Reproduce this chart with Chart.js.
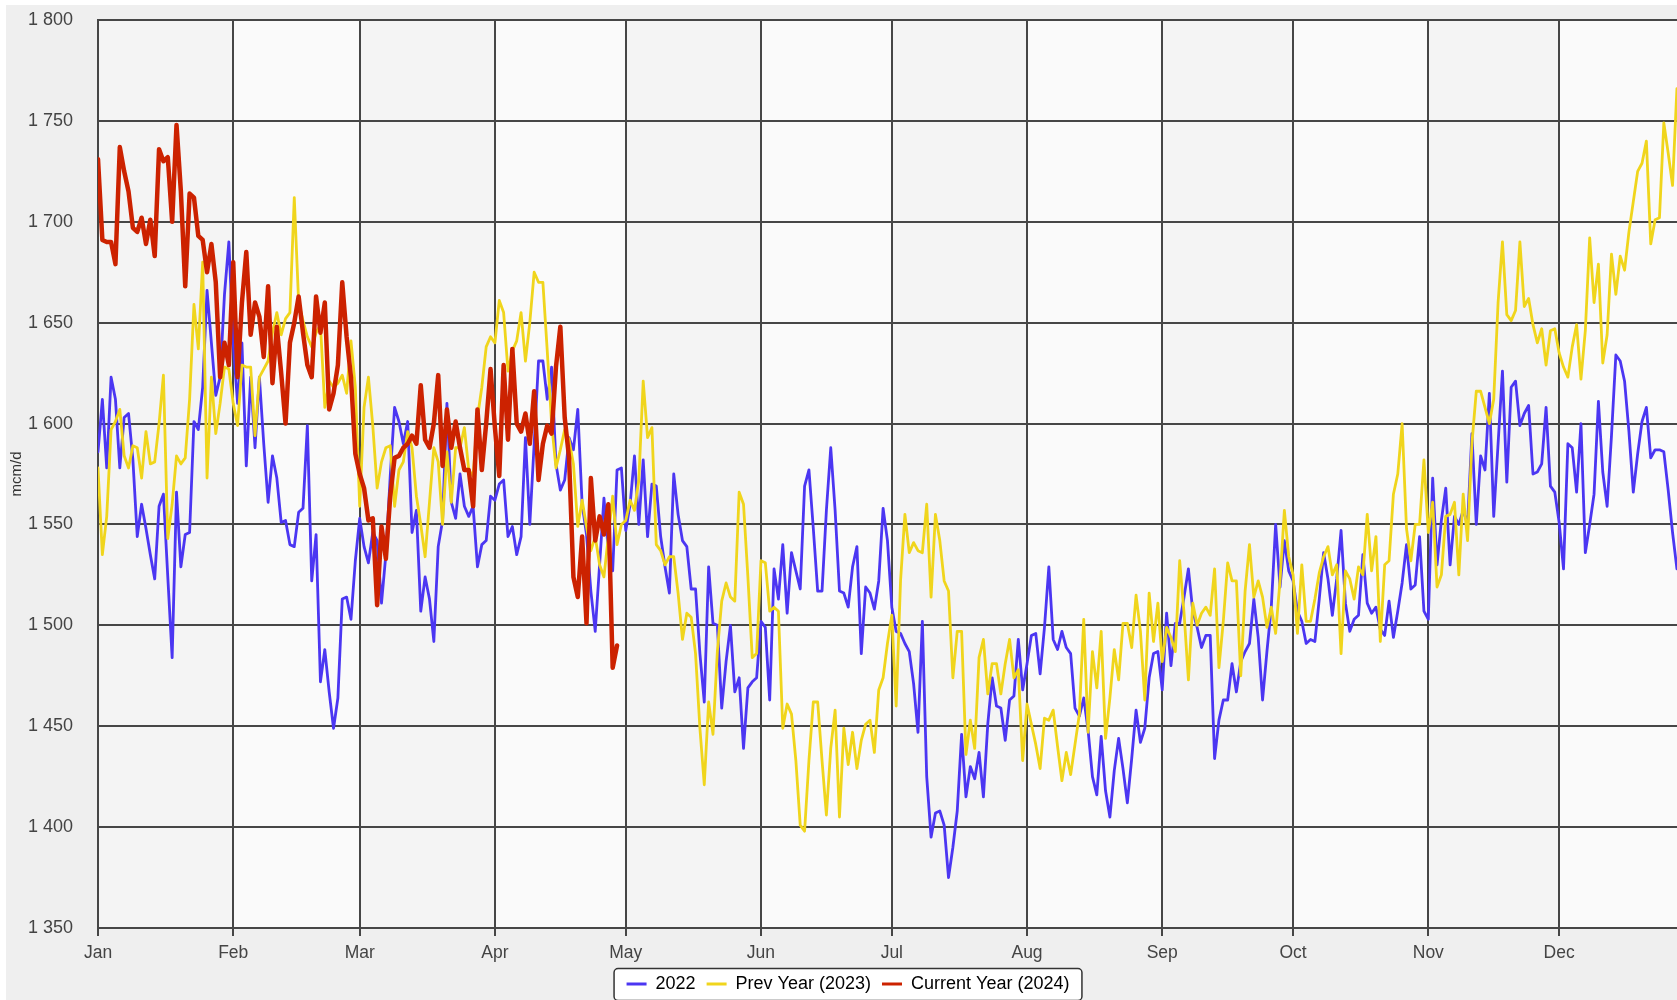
<!DOCTYPE html>
<html>
<head>
<meta charset="utf-8">
<title>Daily gas flow, mcm/d</title>
<script src="https://cdn.jsdelivr.net/npm/chart.js@4.4.1/dist/chart.umd.min.js"></script>
<style>
  html, body { margin: 0; padding: 0; background: #ffffff; overflow: hidden; width: 1677px; height: 1000px; }
  #wrap { position: absolute; left: 6px; top: 5px; width: 1696px; height: 998px; }
</style>
</head>
<body>
<div id="wrap"><canvas id="chart"></canvas></div>
<script>
// Month labels and the day-of-year on which each month starts (leap-year calendar)
const MONTHS = ['Jan', 'Feb', 'Mar', 'Apr', 'May', 'Jun', 'Jul', 'Aug', 'Sep', 'Oct', 'Nov', 'Dec'];
const MONTH_START_DAYS = [0, 31, 60, 91, 121, 152, 182, 213, 244, 274, 305, 335];

// Daily values, mcm/d, one entry per day starting 1 January
const SERIES_2022 = [
  1586,1612,1578,1623,1612,1578,1603,1605,1582,1544,
  1560,1548,1535,1523,1559,1565,1524,1484,1566,1529,
  1545,1546,1601,1597,1618,1666,1640,1614,1623,1664,
  1690,1640,1610,1640,1579,1623,1588,1623,1590,1561,
  1584,1573,1551,1552,1540,1539,1556,1558,1599,1522,
  1545,1472,1488,1467,1449,1464,1513,1514,1503,1532,
  1553,1539,1531,1546,1542,1511,1535,1574,1608,1601,
  1590,1601,1546,1557,1507,1524,1513,1492,1539,1552,
  1610,1561,1553,1575,1559,1554,1559,1529,1540,1542,
  1564,1562,1570,1572,1544,1549,1535,1544,1593,1550,
  1590,1631,1631,1612,1628,1580,1567,1572,1593,1587,
  1607,1560,1545,1517,1497,1530,1563,1537,1527,1577,
  1578,1547,1560,1584,1550,1582,1544,1570,1569,1544,
  1529,1516,1575,1555,1542,1539,1518,1518,1486,1462,
  1529,1501,1500,1459,1482,1500,1467,1474,1439,1469,
  1472,1474,1502,1499,1463,1528,1513,1540,1506,1536,
  1527,1518,1569,1577,1548,1517,1517,1557,1588,1557,
  1517,1516,1509,1529,1539,1486,1519,1516,1508,1522,
  1558,1542,1509,1497,1496,1491,1487,1471,1447,1502,
  1425,1395,1407,1408,1401,1375,1390,1408,1446,1415,
  1430,1424,1437,1415,1451,1474,1460,1459,1443,1463,
  1465,1493,1468,1481,1495,1496,1476,1499,1529,1493,
  1488,1497,1489,1486,1459,1455,1464,1448,1425,1416,
  1445,1418,1405,1428,1444,1429,1412,1434,1458,1442,
  1449,1474,1486,1487,1468,1506,1480,1501,1501,1514,
  1528,1507,1499,1489,1495,1495,1434,1453,1463,1463,
  1481,1467,1482,1487,1491,1513,1494,1463,1487,1509,
  1550,1519,1542,1527,1522,1507,1502,1491,1493,1492,
  1513,1536,1523,1505,1523,1547,1511,1497,1503,1505,
  1535,1511,1506,1509,1498,1495,1512,1494,1507,1521,
  1540,1518,1520,1544,1507,1503,1573,1530,1552,1568,
  1530,1554,1550,1557,1550,1595,1550,1584,1577,1615,
  1554,1590,1626,1571,1618,1621,1599,1605,1609,1575,
  1576,1580,1608,1569,1566,1551,1528,1590,1588,1566,
  1600,1536,1550,1565,1611,1576,1559,1594,1634,1631,
  1621,1596,1566,1585,1601,1608,1583,1587,1587,1586,
  1567,1546,1528
];

const SERIES_2023 = [
  1578,1535,1554,1597,1601,1607,1584,1578,1589,1588,
  1573,1596,1580,1581,1600,1624,1543,1560,1584,1580,
  1583,1612,1659,1637,1680,1573,1623,1595,1610,1628,
  1627,1610,1599,1629,1628,1628,1594,1623,1627,1631,
  1645,1655,1644,1652,1655,1712,1660,1651,1643,1638,
  1645,1649,1608,1621,1618,1620,1624,1615,1641,1618,
  1559,1608,1623,1599,1568,1581,1588,1589,1559,1577,
  1581,1596,1588,1564,1550,1534,1561,1588,1581,1550,
  1586,1561,1588,1588,1598,1577,1574,1603,1618,1638,
  1643,1640,1661,1655,1626,1636,1641,1655,1631,1650,
  1675,1670,1670,1636,1600,1578,1587,1597,1592,1580,
  1549,1562,1549,1537,1544,1530,1524,1544,1564,1540,
  1550,1552,1562,1557,1572,1621,1593,1598,1540,1537,
  1530,1534,1534,1516,1493,1506,1504,1486,1449,1421,
  1462,1446,1487,1512,1521,1514,1512,1566,1560,1524,
  1484,1486,1532,1531,1507,1509,1507,1449,1461,1456,
  1433,1401,1398,1433,1462,1462,1433,1406,1439,1458,
  1405,1449,1431,1447,1429,1443,1451,1453,1437,1468,
  1474,1491,1505,1460,1522,1555,1536,1541,1537,1536,
  1560,1514,1555,1542,1522,1517,1474,1497,1497,1436,
  1453,1439,1484,1493,1466,1481,1481,1466,1481,1493,
  1474,1478,1433,1461,1451,1441,1429,1454,1453,1458,
  1440,1423,1437,1426,1441,1456,1503,1447,1487,1469,
  1497,1444,1464,1488,1473,1501,1501,1489,1515,1497,
  1463,1516,1492,1511,1482,1499,1494,1487,1532,1506,
  1473,1511,1500,1506,1509,1505,1528,1479,1502,1531,
  1522,1522,1475,1517,1540,1514,1522,1514,1499,1509,
  1496,1522,1557,1534,1525,1496,1530,1502,1502,1513,
  1526,1534,1539,1525,1530,1486,1527,1523,1513,1529,
  1525,1555,1527,1544,1492,1530,1532,1565,1575,1600,
  1548,1532,1550,1550,1582,1546,1561,1519,1525,1554,
  1555,1561,1525,1565,1542,1590,1616,1616,1608,1600,
  1612,1660,1690,1654,1651,1656,1690,1658,1662,1649,
  1640,1647,1629,1646,1647,1635,1628,1623,1638,1649,
  1622,1646,1692,1660,1679,1630,1644,1684,1664,1683,
  1676,1695,1710,1725,1729,1740,1689,1701,1702,1749,
  1734,1718,1766
];

const SERIES_2024 = [
  1731,1691,1690,1690,1679,1737,1725,1715,1697,1695,
  1702,1689,1701,1683,1736,1730,1732,1700,1748,1715,
  1668,1714,1712,1693,1691,1675,1689,1670,1623,1640,
  1629,1680,1623,1660,1685,1644,1660,1653,1633,1668,
  1620,1648,1625,1600,1640,1650,1663,1645,1629,1623,
  1663,1645,1660,1607,1615,1629,1670,1643,1623,1585,
  1575,1568,1552,1553,1510,1549,1533,1564,1583,1584,
  1588,1590,1594,1590,1619,1592,1588,1600,1624,1579,
  1607,1588,1601,1588,1577,1577,1559,1607,1577,1600,
  1627,1598,1574,1629,1592,1637,1600,1596,1605,1590,
  1616,1572,1590,1599,1595,1628,1648,1603,1583,1524,
  1514,1544,1501,1573,1542,1554,1545,1560,1479,1490
];

const SERIES_LABELS = ['2022', 'Prev Year (2023)', 'Current Year (2024)'];

const toPoints = (arr) => arr.map((v, i) => ({ x: i, y: v }));
const thousands = (v) => String(v).replace(/\B(?=(\d{3})+(?!\d))/g, ' ');

const FONT = '"Liberation Sans", Arial, Helvetica, sans-serif';
const GRID = '#464646';
const TEXT = '#444444';

// Grey panel, alternating month columns and the framed legend
const panelBackground = {
  id: 'panelBackground',
  beforeDraw(chart) {
    const { ctx, chartArea: a, scales: { x } } = chart;
    ctx.save();
    ctx.fillStyle = '#efefef';
    ctx.fillRect(0, 0, chart.width, chart.height);
    const edges = MONTH_START_DAYS.concat([x.max]);
    for (let i = 0; i < MONTH_START_DAYS.length; i++) {
      const l = x.getPixelForValue(edges[i]);
      const r = x.getPixelForValue(edges[i + 1]);
      ctx.fillStyle = i % 2 === 0 ? '#f4f4f4' : '#fafafa';
      ctx.fillRect(l, a.top, r - l, a.bottom - a.top);
    }
    const lg = chart.legend;
    if (lg && lg.legendHitBoxes && lg.legendHitBoxes.length) {
      const hb = lg.legendHitBoxes;
      const left = Math.min(...hb.map(h => h.left)) - 13;
      const right = Math.max(...hb.map(h => h.left + h.width)) + 12;
      const top = Math.min(...hb.map(h => h.top)) - 7;
      const bottom = Math.max(...hb.map(h => h.top + h.height)) + 7;
      ctx.beginPath();
      ctx.roundRect(left + 0.5, top + 0.5, right - left, bottom - top, 4);
      ctx.fillStyle = '#ffffff';
      ctx.fill();
      ctx.lineWidth = 1.5;
      ctx.strokeStyle = '#333333';
      ctx.stroke();
    }
    ctx.restore();
  }
};

new Chart(document.getElementById('chart'), {
  type: 'line',
  data: {
    datasets: [
      { label: SERIES_LABELS[0], data: toPoints(SERIES_2022), borderColor: '#4b36f2', borderWidth: 2.8, order: 2 },
      { label: SERIES_LABELS[1], data: toPoints(SERIES_2023), borderColor: '#f0d51c', borderWidth: 2.8, order: 1 },
      { label: SERIES_LABELS[2], data: toPoints(SERIES_2024), borderColor: '#cc2200', borderWidth: 4.5, order: 0 }
    ]
  },
  options: {
    responsive: true,
    maintainAspectRatio: false,
    animation: false,
    events: [],
    elements: { point: { radius: 0 }, line: { tension: 0, borderJoinStyle: 'round', borderCapStyle: 'round' } },
    layout: { padding: { top: 15, right: 12, bottom: 0, left: 0 } },
    scales: {
      x: {
        type: 'linear',
        min: 0,
        max: 365,
        afterBuildTicks(s) { s.ticks = MONTH_START_DAYS.map(v => ({ value: v })); },
        afterFit(s) { s.height = 36; },
        ticks: {
          autoSkip: false, maxRotation: 0, padding: 6.5, color: TEXT,
          font: { family: FONT, size: 17.5 },
          callback: (v, i) => MONTHS[i]
        },
        grid: { color: GRID, lineWidth: 2, tickLength: 8 },
        border: { color: GRID, width: 2 }
      },
      y: {
        min: 1350,
        max: 1800,
        afterFit(s) { s.width = 92; },
        ticks: {
          stepSize: 50, padding: 0, color: TEXT,
          font: { family: FONT, size: 18 },
          callback: (v) => thousands(v)
        },
        // invisible tick marks keep the labels clear of the axis
        grid: { color: GRID, lineWidth: 2, drawTicks: true, tickLength: 25, tickColor: 'rgba(0,0,0,0)' },
        border: { color: GRID, width: 2 },
        title: { display: true, text: 'mcm/d', color: '#333333', font: { family: FONT, size: 15 }, padding: { top: 2, bottom: 0 } }
      }
    },
    plugins: {
      tooltip: { enabled: false },
      legend: {
        position: 'bottom',
        labels: {
          boxWidth: 20, boxHeight: 3, padding: 11, color: '#333333',
          font: { family: FONT, size: 18 },
          generateLabels(chart) {
            return chart.data.datasets.map((ds, i) => ({
              text: ds.label,
              fillStyle: ds.borderColor,
              strokeStyle: ds.borderColor,
              lineWidth: 0,
              hidden: !chart.isDatasetVisible(i),
              datasetIndex: i
            }));
          }
        }
      }
    }
  },
  plugins: [panelBackground]
});
</script>
</body>
</html>
